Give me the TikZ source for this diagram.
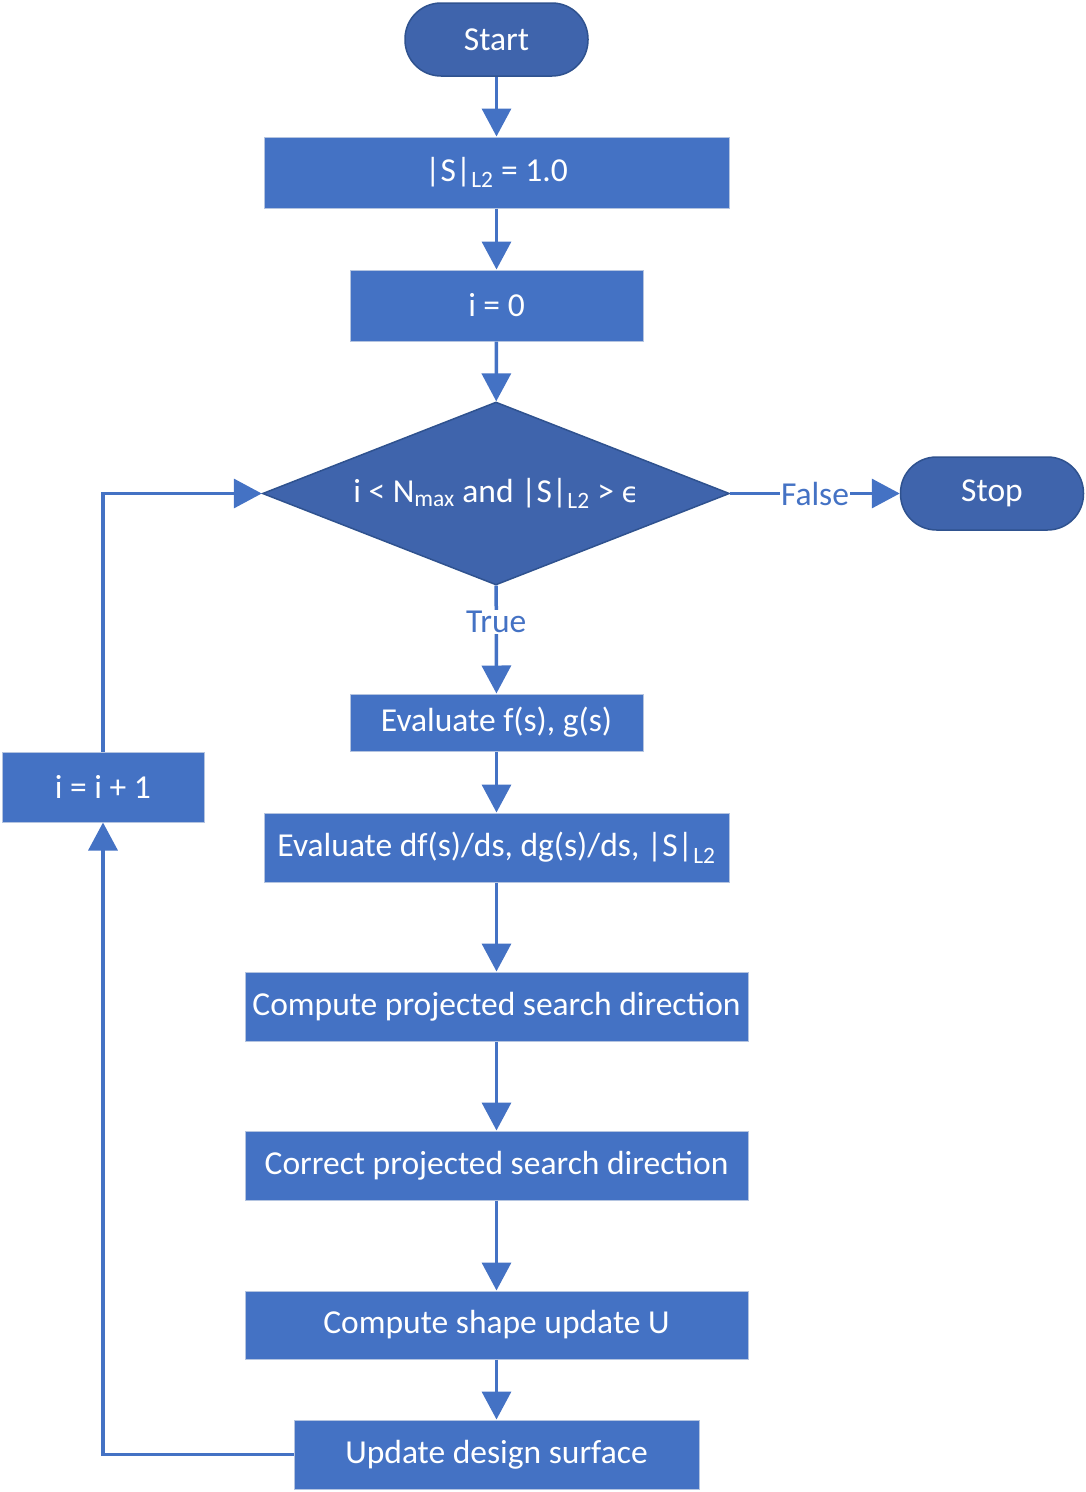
\documentclass[tikz,border=0pt]{standalone}
\usepackage{fontspec}
\setmainfont{Carlito}
\newfontfamily\symfont{DejaVu Sans}
\usepackage{tikz}
\usetikzlibrary{arrows.meta, shapes.geometric}
\definecolor{boxblue}{HTML}{4472C4}
\definecolor{termblue}{HTML}{3F64AC}
\definecolor{termline}{HTML}{2F528F}
\definecolor{boxline}{HTML}{B4C4E0}

\begin{document}
\begin{tikzpicture}[x=1pt, y=-1pt,
    font=\fontsize{33.5}{40}\selectfont,
    proc/.style={rectangle, draw=boxline, line width=1pt, fill=boxblue, text=white, inner sep=0pt},
    term/.style={rectangle, rounded corners=36pt, draw=termline, line width=1.5pt, fill=termblue, text=white, minimum width=183pt, minimum height=73pt},
    flow/.style={draw=boxblue, line width=3.5pt, -{Triangle[width=29pt, length=28pt]}},
    lbl/.style={text=boxblue, fill=white, inner sep=1pt}]
      \useasboundingbox (0,0) rectangle (1086,1492);

      \node[term] (start) at (496.5,39.5) {Start};
      \node[proc, minimum width=465pt, minimum height=71pt] (norm) at (496.5,172.5) {|S|\textsubscript{L2} = 1.0};
      \node[proc, minimum width=293pt, minimum height=71pt] (init) at (496.5,305.5) {i = 0};
      \node[diamond, draw=termline, line width=1.5pt, fill=termblue, text=white, inner sep=0pt,
            minimum width=467pt, minimum height=183pt, aspect=2.55] (check) at (496,493.5)
            {i < N\textsubscript{max} and |S|\textsubscript{L2} > {\symfont\fontsize{28}{34}\selectfont ϵ}};
      \node[term] (stop) at (992,493.5) {Stop};
      \node[proc, minimum width=293pt, minimum height=57pt] (evalf) at (496.5,722.5) {Evaluate f(s), g(s)};
      \node[proc, minimum width=202pt, minimum height=70pt] (incr) at (103,787) {i = i + 1};
      \node[proc, minimum width=465pt, minimum height=69pt] (evalgrad) at (496.5,847.5) {Evaluate df(s)/ds, dg(s)/ds, |S|\textsubscript{L2}};
      \node[proc, minimum width=503pt, minimum height=69pt] (compdir) at (496.5,1006.5) {Compute projected search direction};
      \node[proc, minimum width=503pt, minimum height=69pt] (corrdir) at (496.5,1165.5) {Correct projected search direction};
      \node[proc, minimum width=503pt, minimum height=68pt] (shape) at (496.5,1325) {Compute shape update U};
      \node[proc, minimum width=405pt, minimum height=69pt] (update) at (496.5,1454.5) {Update design surface};

      \draw[flow] (start) -- (norm);
      \draw[flow] (norm) -- (init);
      \draw[flow] (init) -- (check);
      \draw[flow] (check) -- node[lbl]{False} (stop);
      \draw[flow] (check) -- node[lbl, pos=0.34]{True} (evalf);
      \draw[flow] (evalf) -- (evalgrad);
      \draw[flow] (evalgrad) -- (compdir);
      \draw[flow] (compdir) -- (corrdir);
      \draw[flow] (corrdir) -- (shape);
      \draw[flow] (shape) -- (update);
      \draw[flow] (update.west) -| (incr.south);
      \draw[flow] (incr.north) |- (check.west);
    \end{tikzpicture}
\end{document}
